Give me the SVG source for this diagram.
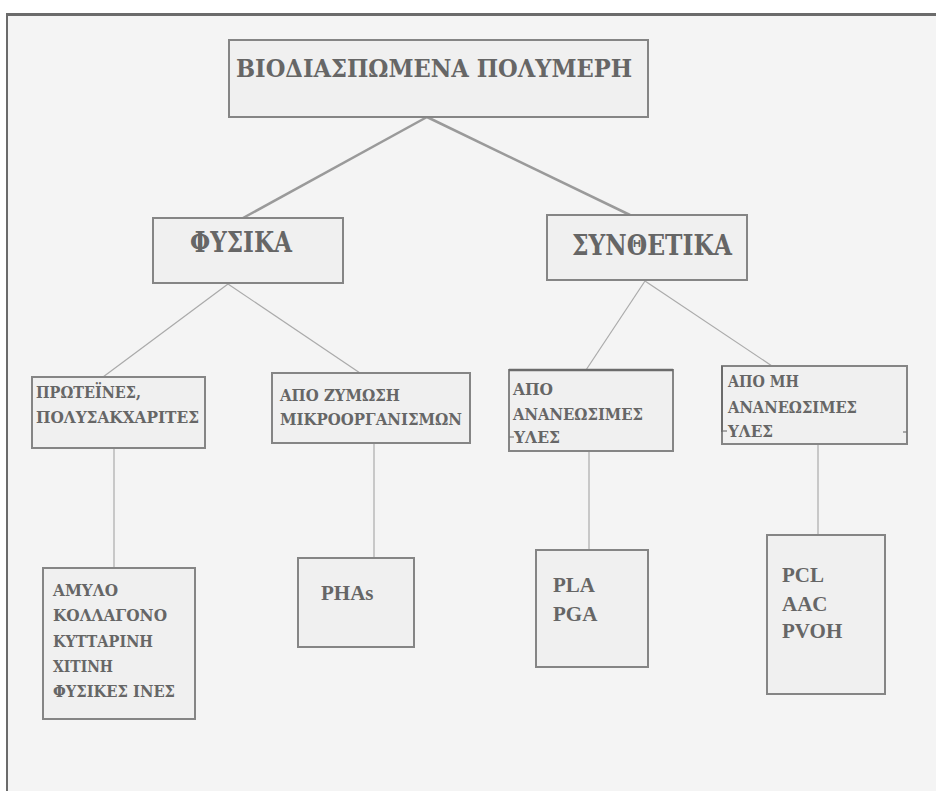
<svg xmlns="http://www.w3.org/2000/svg" width="936" height="791" viewBox="0 0 936 791">
<style>
.bx{fill:#f0f0f0;stroke:#858585;stroke-width:2}
.t{font-family:"DejaVu Serif","Liberation Serif","Times New Roman",serif;font-weight:bold;fill:#666}
.l{font-family:"Liberation Serif","Times New Roman",serif;font-weight:bold;fill:#666}
.c1{stroke:#9a9a9a;stroke-width:2.5;fill:none}
.c2{stroke:#aaaaaa;stroke-width:1.2;fill:none}
</style>
<rect x="0" y="0" width="936" height="791" fill="#ffffff"/>
<rect x="7" y="14" width="929" height="777" fill="#f4f4f4"/>
<line x1="6" y1="14.5" x2="936" y2="14.5" stroke="#6b6b6b" stroke-width="3"/>
<line x1="7" y1="13" x2="7" y2="791" stroke="#6b6b6b" stroke-width="2"/>
<g id="connectors">
<line class="c1" x1="427" y1="117" x2="243" y2="218"/>
<line class="c1" x1="427" y1="117" x2="630" y2="215"/>
<line class="c2" x1="228" y1="284" x2="103" y2="377"/>
<line class="c2" x1="228" y1="284" x2="360" y2="373"/>
<line class="c2" x1="645" y1="281" x2="586" y2="370"/>
<line class="c2" x1="645" y1="281" x2="772" y2="366"/>
<line class="c2" x1="114" y1="448" x2="114" y2="568"/>
<line class="c2" x1="374" y1="443" x2="374" y2="558"/>
<line class="c2" x1="589" y1="451" x2="589" y2="550"/>
<line class="c2" x1="818" y1="444" x2="818" y2="535"/>
</g>
<g id="n_root">
<rect class="bx" x="229" y="40" width="419" height="77"/>
<text class="t" x="236" y="77" font-size="25" textLength="396" lengthAdjust="spacingAndGlyphs">ΒΙΟΔΙΑΣΠΩΜΕΝΑ ΠΟΛΥΜΕΡΗ</text>
</g>
<g id="n_fysika">
<rect class="bx" x="153" y="218" width="190" height="65"/>
<text class="t" x="190" y="252" font-size="27" textLength="102" lengthAdjust="spacingAndGlyphs">ΦΥΣΙΚΑ</text>
</g>
<g id="n_synthetika">
<rect class="bx" x="547" y="215" width="200" height="65"/>
<text class="t" x="572" y="255" font-size="27" textLength="160" lengthAdjust="spacingAndGlyphs">ΣΥΝΘΕΤΙΚΑ</text>
</g>
<g id="n_proteines">
<rect class="bx" x="32" y="377" width="173" height="71"/>
<text class="t" x="36" y="398" font-size="17" textLength="105" lengthAdjust="spacingAndGlyphs">ΠΡΩΤΕΪΝΕΣ,</text>
<text class="t" x="36" y="423" font-size="17" textLength="163" lengthAdjust="spacingAndGlyphs">ΠΟΛΥΣΑΚΧΑΡΙΤΕΣ</text>
</g>
<g id="n_zymosi">
<rect class="bx" x="272" y="373" width="198" height="70"/>
<text class="t" x="280" y="401" font-size="17" textLength="120" lengthAdjust="spacingAndGlyphs">ΑΠΟ ΖΥΜΩΣΗ</text>
<text class="t" x="280" y="425" font-size="17" textLength="182" lengthAdjust="spacingAndGlyphs">ΜΙΚΡΟΟΡΓΑΝΙΣΜΩΝ</text>
</g>
<g id="n_ananeosimes">
<rect class="bx" x="509" y="370" width="164" height="81"/>
<line x1="509" y1="370" x2="673" y2="370" stroke="#6b6b6b" stroke-width="2.5"/>
<line x1="509" y1="437" x2="514" y2="437" stroke="#777" stroke-width="1.2"/>
<text class="t" x="513" y="395" font-size="17" textLength="40" lengthAdjust="spacingAndGlyphs">ΑΠΟ</text>
<text class="t" x="513" y="420" font-size="17" textLength="130" lengthAdjust="spacingAndGlyphs">ΑΝΑΝΕΩΣΙΜΕΣ</text>
<text class="t" x="514" y="443" font-size="17" textLength="46" lengthAdjust="spacingAndGlyphs">ΥΛΕΣ</text>
</g>
<g id="n_mi_ananeosimes">
<rect class="bx" x="722" y="366" width="185" height="78"/>
<line x1="722" y1="366" x2="722" y2="432" stroke="#6b6b6b" stroke-width="2"/>
<line x1="722" y1="431" x2="727" y2="431" stroke="#777" stroke-width="1.2"/>
<line x1="903" y1="432" x2="907" y2="432" stroke="#777" stroke-width="1.2"/>
<text class="t" x="728" y="387" font-size="17" textLength="71" lengthAdjust="spacingAndGlyphs">ΑΠΟ ΜΗ</text>
<text class="t" x="728" y="413" font-size="17" textLength="129" lengthAdjust="spacingAndGlyphs">ΑΝΑΝΕΩΣΙΜΕΣ</text>
<text class="t" x="728" y="437" font-size="17" textLength="45" lengthAdjust="spacingAndGlyphs">ΥΛΕΣ</text>
</g>
<g id="n_amylo">
<rect class="bx" x="43" y="568" width="152" height="151"/>
<text class="t" x="53" y="596" font-size="17" textLength="65" lengthAdjust="spacingAndGlyphs">ΑΜΥΛΟ</text>
<text class="t" x="53" y="621" font-size="17" textLength="114" lengthAdjust="spacingAndGlyphs">ΚΟΛΛΑΓΟΝΟ</text>
<text class="t" x="53" y="647" font-size="17" textLength="100" lengthAdjust="spacingAndGlyphs">ΚΥΤΤΑΡΙΝΗ</text>
<text class="t" x="53" y="672" font-size="17" textLength="60" lengthAdjust="spacingAndGlyphs">ΧΙΤΙΝΗ</text>
<text class="t" x="53" y="697" font-size="17" textLength="122" lengthAdjust="spacingAndGlyphs">ΦΥΣΙΚΕΣ ΙΝΕΣ</text>
</g>
<g id="n_phas">
<rect class="bx" x="298" y="558" width="116" height="89"/>
<text class="l" x="321" y="600" font-size="21">PHAs</text>
</g>
<g id="n_pla">
<rect class="bx" x="536" y="550" width="112" height="117"/>
<text class="l" x="553" y="592" font-size="21">PLA</text>
<text class="l" x="553" y="621" font-size="21">PGA</text>
</g>
<g id="n_pcl">
<rect class="bx" x="767" y="535" width="118" height="159"/>
<text class="l" x="782" y="582" font-size="21">PCL</text>
<text class="l" x="782" y="611" font-size="21">AAC</text>
<text class="l" x="782" y="638" font-size="21">PVOH</text>
</g>
</svg>
